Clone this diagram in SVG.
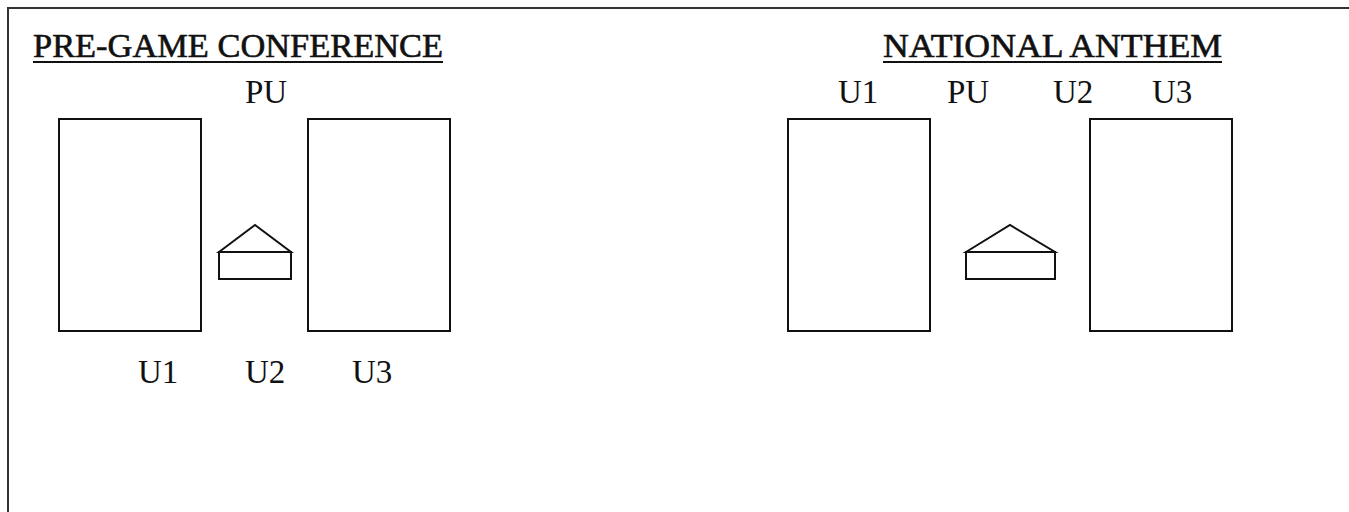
<svg xmlns="http://www.w3.org/2000/svg" width="1349" height="512" viewBox="0 0 1349 512">
  <style>
    .frame { fill: none; stroke: #333; stroke-width: 2; }
    .box { fill: none; stroke: #111; stroke-width: 2; }
    .txt { font-family: "Liberation Serif", "DejaVu Serif", serif; font-size: 33px; fill: #111; }
    .title { font-family: "Liberation Serif", "DejaVu Serif", serif; font-size: 34px; fill: #111; stroke: #111; stroke-width: 0.6; }
    .rule { stroke: #111; stroke-width: 2; }
  </style>
  <rect width="1349" height="512" fill="#fff"/>
  <!-- page frame: top and left edges only -->
  <path class="frame" d="M1349,8 H8 V512"/>

  <!-- Pre-game conference -->
  <g id="pregame-title">
    <text class="title" x="33" y="57" textLength="410" lengthAdjust="spacingAndGlyphs">PRE-GAME CONFERENCE</text>
    <line class="rule" x1="33" y1="62" x2="443" y2="62"/>
  </g>
  <g id="pregame-bench-left"><rect class="box" x="59" y="119" width="142" height="212"/></g>
  <g id="pregame-bench-right"><rect class="box" x="308" y="119" width="142" height="212"/></g>
  <g id="pregame-plate">
    <path class="box" d="M219,252 L255,225 L291,252 Z"/>
    <rect class="box" x="219" y="252" width="72" height="27"/>
  </g>
  <g id="pregame-labels">
    <text class="txt" x="245" y="103">PU</text>
    <text class="txt" x="138" y="383">U1</text>
    <text class="txt" x="245" y="383">U2</text>
    <text class="txt" x="352" y="383">U3</text>
  </g>

  <!-- National anthem -->
  <g id="anthem-title">
    <text class="title" x="883" y="57" textLength="339" lengthAdjust="spacingAndGlyphs">NATIONAL ANTHEM</text>
    <line class="rule" x1="883" y1="62" x2="1222" y2="62"/>
  </g>
  <g id="anthem-bench-left"><rect class="box" x="788" y="119" width="142" height="212"/></g>
  <g id="anthem-bench-right"><rect class="box" x="1090" y="119" width="142" height="212"/></g>
  <g id="anthem-plate">
    <path class="box" d="M966,252 L1010,225 L1055,252 Z"/>
    <rect class="box" x="966" y="252" width="89" height="27"/>
  </g>
  <g id="anthem-labels">
    <text class="txt" x="838" y="103">U1</text>
    <text class="txt" x="947" y="103">PU</text>
    <text class="txt" x="1053" y="103">U2</text>
    <text class="txt" x="1152" y="103">U3</text>
  </g>

  <g id="connectors"></g>
</svg>
